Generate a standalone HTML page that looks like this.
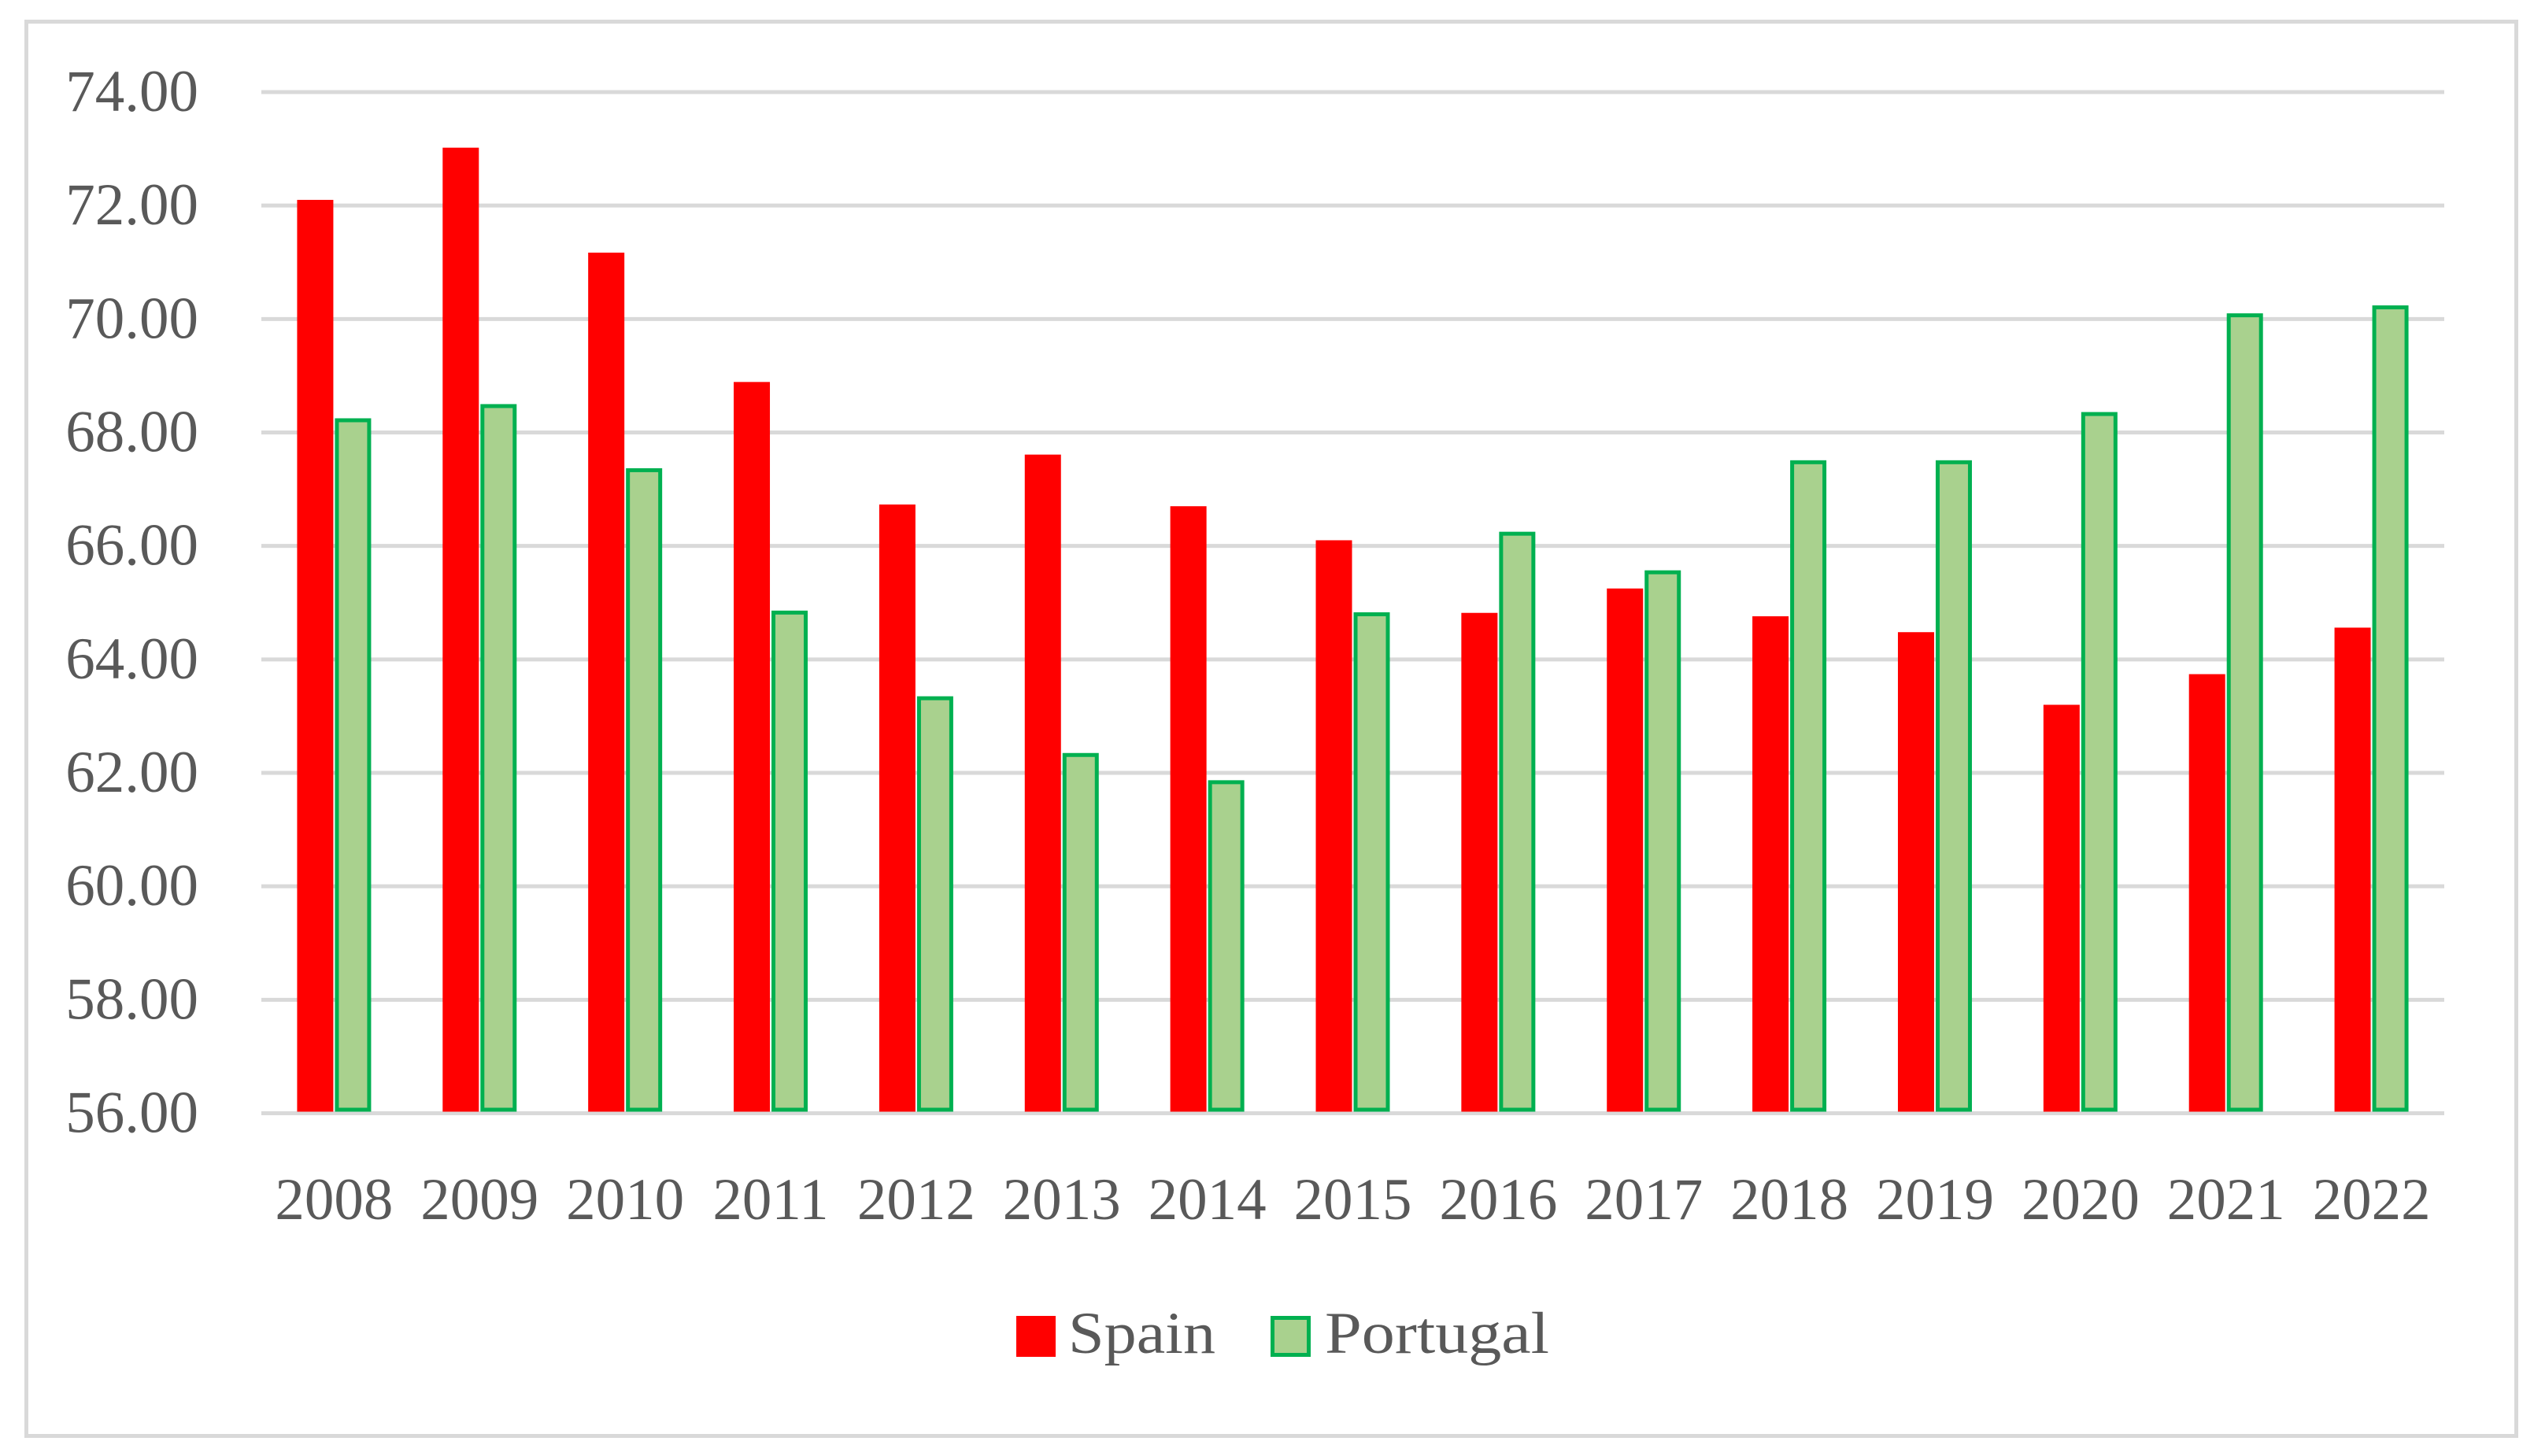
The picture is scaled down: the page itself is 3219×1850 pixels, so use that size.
<!DOCTYPE html>
<html><head><meta charset="utf-8"><style>
html,body{margin:0;padding:0;background:#fff;}
svg{display:block;}
text{font-family:"Liberation Serif",serif;fill:#595959;}
</style></head><body>
<svg id="chart" width="3219" height="1850" viewBox="0 0 3219 1850" xmlns="http://www.w3.org/2000/svg">
<rect x="33.5" y="27.5" width="3163" height="1797" fill="#fff" stroke="#d9d9d9" stroke-width="5"/>
<g id="grid"></g>
<g id="bars"></g>
<g id="ylabels"></g>
<g id="xlabels"></g>
<g>
<rect x="1291" y="1672" width="50" height="52" fill="#ff0000"/>
<text x="1357" y="1719" font-size="75" textLength="187" lengthAdjust="spacingAndGlyphs">Spain</text>
<rect x="1616.5" y="1674.5" width="46" height="47" fill="#a9d18e" stroke="#00b050" stroke-width="5"/>
<text x="1683" y="1719" font-size="75" textLength="285" lengthAdjust="spacingAndGlyphs">Portugal</text>
</g>
</svg>
<script>
const categories = ["2008","2009","2010","2011","2012","2013","2014","2015","2016","2017","2018","2019","2020","2021","2022"];
const spain = [72.1,73.02,71.17,68.89,66.73,67.61,66.7,66.1,64.82,65.25,64.76,64.48,63.2,63.74,64.56];
const portugal = [68.25,68.5,67.37,64.86,63.35,62.35,61.87,64.83,66.25,65.57,67.51,67.51,68.36,70.1,70.24];
const yTicks = [56,58,60,62,64,66,68,70,72,74];
const yTickLabels = ["56.00","58.00","60.00","62.00","64.00","66.00","68.00","70.00","72.00","74.00"];

const NS = "http://www.w3.org/2000/svg";
const X0 = 332, X1 = 3105, Y0 = 1414.5, Y1 = 117, VMIN = 56, VMAX = 74;
function y(v){ return Y0 - (v - VMIN) / (VMAX - VMIN) * (Y0 - Y1); }
const band = (X1 - X0) / categories.length;
function xc(i){ return X0 + band * (i + 0.5); }
function mk(tag, attrs, parent){
  const el = document.createElementNS(NS, tag);
  for (const k in attrs) el.setAttribute(k, attrs[k]);
  parent.appendChild(el);
  return el;
}
const grid = document.getElementById('grid');
const ylab = document.getElementById('ylabels');
yTicks.forEach((t, i) => {
  const ln = mk('line', {x1: X0, x2: X1, y1: y(t), y2: y(t), stroke: '#d9d9d9', 'stroke-width': 5}, grid);
  
  
  const tx = mk('text', {x: 252, y: y(t) + 24, 'text-anchor': 'end', 'font-size': 75}, ylab);
  tx.textContent = yTickLabels[i];
  
  
});
const bars = document.getElementById('bars');
const xlab = document.getElementById('xlabels');
const bw = 46;
categories.forEach((c, i) => {
  const cx = xc(i);
  const r = mk('rect', {x: cx - 1 - bw, y: y(spain[i]), width: bw, height: Y0 - 2 - y(spain[i]), fill: '#ff0000'}, bars);
  
  
  const g = mk('rect', {x: cx + 3.5, y: y(portugal[i]) + 2.5, width: bw - 5, height: Y0 - 4.5 - y(portugal[i]) - 2.5, fill: '#a9d18e', stroke: '#00b050', 'stroke-width': 5}, bars);
  
  
  const t = mk('text', {x: cx, y: 1549, 'text-anchor': 'middle', 'font-size': 75}, xlab);
  t.textContent = c;
  
  
});
</script>
</body></html>
